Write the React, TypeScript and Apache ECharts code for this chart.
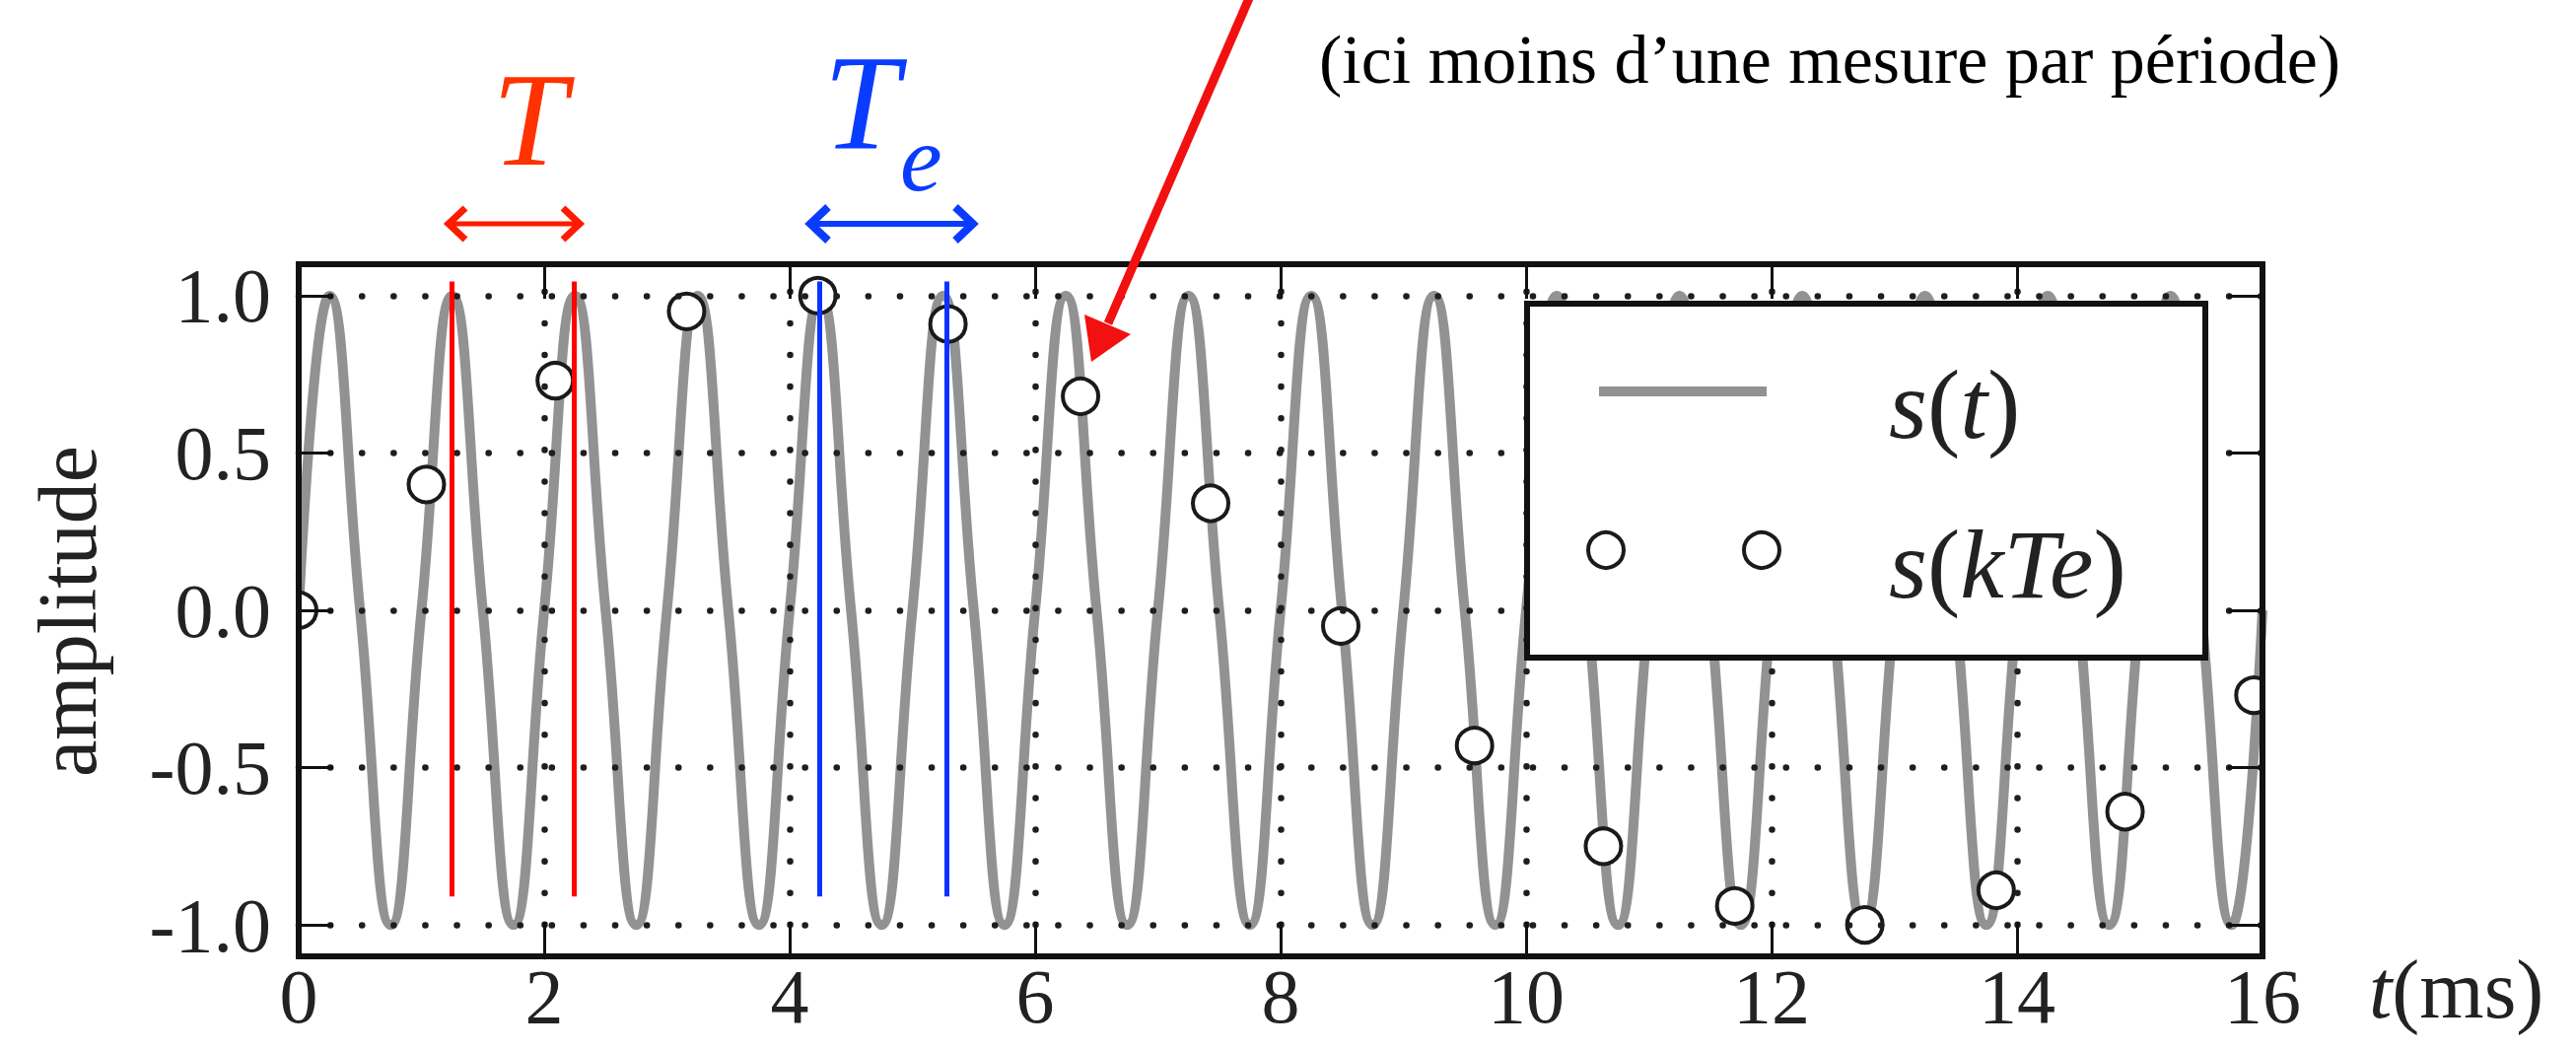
import React, { useEffect, useRef } from 'react';
import * as echarts from 'echarts';

// s(t): times (ms) of zero crossings, peaks and troughs
const sTimes = [0, 0.25, 0.5, 0.75, 1, 1.25, 1.5, 1.75, 2, 2.25, 2.5, 2.75, 3, 3.25, 3.5, 3.75, 4, 4.25, 4.5, 4.75, 5, 5.25, 5.5, 5.75, 6, 6.25, 6.5, 6.75, 7, 7.25, 7.5, 7.75, 8, 8.25, 8.5, 8.75, 9, 9.25, 9.5, 9.75, 10, 10.25, 10.5, 10.75, 11, 11.25, 11.5, 11.75, 12, 12.25, 12.5, 12.75, 13, 13.25, 13.5, 13.75, 14, 14.25, 14.5, 14.75, 15, 15.25, 15.5, 15.75, 16];
const sValues = [0, 1, 0, -1, 0, 1, 0, -1, 0, 1, 0, -1, 0, 1, 0, -1, 0, 1, 0, -1, 0, 1, 0, -1, 0, 1, 0, -1, 0, 1, 0, -1, 0, 1, 0, -1, 0, 1, 0, -1, 0, 1, 0, -1, 0, 1, 0, -1, 0, 1, 0, -1, 0, 1, 0, -1, 0, 1, 0, -1, 0, 1, 0, -1, 0];

// s(kTe): sampled points
const sampleTimes = [0, 1.04, 2.09, 3.16, 4.23, 5.29, 6.37, 7.43, 8.49, 9.58, 10.63, 11.7, 12.76, 13.83, 14.88, 15.93];
const sampleValues = [0, 0.4, 0.73, 0.95, 1.0, 0.91, 0.68, 0.34, -0.05, -0.43, -0.75, -0.94, -1.0, -0.89, -0.64, -0.27];

// grid / tick values
const xTickValues = [2, 4, 6, 8, 10, 12, 14];
const yTickValues = [-1, -0.5, 0, 0.5, 1];

// annotation markers (ms)
const periodMarks = [1.25, 2.24];
const samplingMarks = [4.24, 5.28];
const markTop = 1.045;
const markBottom = -0.91;

const SERIF = "'Liberation Serif', 'DejaVu Serif', serif";

export default function App() {
  const ref = useRef<HTMLDivElement>(null);

  useEffect(() => {
    document.body.style.margin = '0';
    if (!ref.current) return;
    const chart = echarts.init(ref.current, undefined, { renderer: 'svg' });

    const axisLineStyle = { color: '#111', width: 6, cap: 'square' };
    const tick = { show: true, inside: true, length: 35, lineStyle: { color: '#111', width: 3 } };
    const labelStyle = { fontFamily: SERIF, fontSize: 78, color: '#222' };

    const gridLineStyle = { color: '#1e1e1e', width: 6.5, type: [0.1, 32], cap: 'round' };

    const option: any = {
      animation: false,
      backgroundColor: '#fff',
      grid: { left: 303, right: 318, top: 268, bottom: 96, containLabel: false, outerBoundsMode: 'none' },
      xAxis: [
        {
          type: 'value', min: 0, max: 16, interval: 2, position: 'bottom', z: 10,
          axisLine: { show: true, onZero: false, lineStyle: axisLineStyle },
          axisTick: tick,
          splitLine: { show: false },
          axisLabel: { ...labelStyle, margin: 40, verticalAlign: 'middle' },
        },
        {
          type: 'value', min: 0, max: 16, interval: 2, position: 'top', z: 10,
          axisLine: { show: true, onZero: false, lineStyle: axisLineStyle },
          axisTick: tick,
          splitLine: { show: false },
          axisLabel: { show: false },
        },
      ],
      yAxis: [
        {
          type: 'value', min: -1.1, max: 1.1, position: 'left', z: 10,
          axisLine: { show: true, onZero: false, lineStyle: axisLineStyle },
          axisTick: { ...tick, customValues: yTickValues },
          splitLine: { show: false },
          axisLabel: {
            ...labelStyle, margin: 28, customValues: yTickValues,
            formatter: (v: number) => (Math.abs(v) > 1.05 ? '' : v.toFixed(1)),
          },
        },
        {
          type: 'value', min: -1.1, max: 1.1, position: 'right', z: 10,
          axisLine: { show: true, onZero: false, lineStyle: axisLineStyle },
          axisTick: { ...tick, customValues: yTickValues },
          splitLine: { show: false },
          axisLabel: { show: false },
        },
      ],
      series: [
        {
          name: 's(t)',
          type: 'line',
          data: sTimes.map((t, i) => [t, sValues[i]]),
          smooth: 0.5,
          showSymbol: false,
          symbol: 'none',
          lineStyle: { color: '#929292', width: 10 },
          z: 2,
          silent: true,
          markLine: {
            silent: true,
            z: 5,
            symbol: ['none', 'none'],
            label: { show: false },
            lineStyle: gridLineStyle,
            data: [
              ...xTickValues.map((v) => ({ xAxis: v })),
              ...yTickValues.map((v) => ({ yAxis: v })),
            ],
          },
        },
        {
          name: 's(kTe)',
          type: 'scatter',
          data: sampleTimes.map((t, i) => [t, sampleValues[i]]),
          symbol: 'circle',
          symbolSize: 36,
          clip: false,
          itemStyle: { color: '#fff', borderColor: '#1a1a1a', borderWidth: 4, opacity: 1 },
          z: 3,
          silent: true,
          markLine: {
            silent: true,
            z: 6,
            symbol: ['none', 'none'],
            label: { show: false },
            data: [
              ...periodMarks.map((v) => [
                { coord: [v, markTop], lineStyle: { color: '#ff0000', width: 5, type: 'solid' } },
                { coord: [v, markBottom] },
              ]),
              ...samplingMarks.map((v) => [
                { coord: [v, markTop], lineStyle: { color: '#0a32ff', width: 5, type: 'solid' } },
                { coord: [v, markBottom] },
              ]),
            ],
          },
        },
      ],
      graphic: [
        // masks emulating clipping of the edge markers by the frame
        { type: 'rect', z: 8, silent: true, shape: { x: 276, y: 585, width: 25, height: 70 }, style: { fill: '#fff' } },
        { type: 'rect', z: 8, silent: true, shape: { x: 2298, y: 650, width: 40, height: 90 }, style: { fill: '#fff' } },

        // legend box
        { type: 'rect', z: 20, shape: { x: 1549, y: 308, width: 688, height: 359 }, style: { fill: '#fff', stroke: '#111', lineWidth: 6 } },
        { type: 'line', z: 21, shape: { x1: 1622, y1: 397, x2: 1792, y2: 397 }, style: { stroke: '#929292', lineWidth: 10 } },
        { type: 'circle', z: 21, shape: { cx: 1629, cy: 558, r: 18 }, style: { fill: '#fff', stroke: '#1a1a1a', lineWidth: 4 } },
        { type: 'circle', z: 21, shape: { cx: 1787, cy: 558, r: 18 }, style: { fill: '#fff', stroke: '#1a1a1a', lineWidth: 4 } },
        {
          type: 'text', z: 21, x: 1916, y: 410,
          style: {
            text: '{i|s}{n|(}{i|t}{n|)}',
            align: 'left', verticalAlign: 'middle',
            rich: {
              i: { fontFamily: SERIF, fontStyle: 'italic', fontSize: 100, fill: '#222' },
              n: { fontFamily: SERIF, fontSize: 100, fill: '#222' },
            },
          },
        },
        {
          type: 'text', z: 21, x: 1916, y: 572,
          style: {
            text: '{i|s}{n|(}{i|kTe}{n|)}',
            align: 'left', verticalAlign: 'middle',
            rich: {
              i: { fontFamily: SERIF, fontStyle: 'italic', fontSize: 100, fill: '#222' },
              n: { fontFamily: SERIF, fontSize: 100, fill: '#222' },
            },
          },
        },

        // axis titles
        {
          type: 'text', x: 68, y: 620, rotation: Math.PI / 2,
          style: { text: 'amplitude', fontFamily: SERIF, fontSize: 84, fill: '#222', align: 'center', verticalAlign: 'middle' },
        },
        {
          type: 'text', x: 2403, y: 1003,
          style: {
            text: '{i|t}{n|(ms)}',
            align: 'left', verticalAlign: 'middle',
            rich: {
              i: { fontFamily: SERIF, fontStyle: 'italic', fontSize: 84, fill: '#222' },
              n: { fontFamily: SERIF, fontSize: 84, fill: '#222' },
            },
          },
        },

        // top annotation text
        {
          type: 'text', x: 1338, y: 60,
          style: { text: '(ici moins d’une mesure par période)', fontFamily: SERIF, fontSize: 70, fill: '#000', align: 'left', verticalAlign: 'middle' },
        },

        // T (period) label and double arrow
        {
          type: 'text', x: 537, y: 121,
          style: { text: 'T', fontFamily: SERIF, fontStyle: 'italic', fontSize: 136, fill: '#ff3300', align: 'center', verticalAlign: 'middle' },
        },
        { type: 'line', z: 30, shape: { x1: 458, y1: 227, x2: 585, y2: 227 }, style: { stroke: '#ff1a00', lineWidth: 5 } },
        { type: 'polyline', z: 30, shape: { points: [[472, 211], [455, 227], [472, 243]] }, style: { stroke: '#ff1a00', lineWidth: 7, fill: null } },
        { type: 'polyline', z: 30, shape: { points: [[571, 211], [588, 227], [571, 243]] }, style: { stroke: '#ff1a00', lineWidth: 7, fill: null } },

        // Te label (T with subscript e) and double arrow
        {
          type: 'text', x: 912, y: 104,
          style: { text: 'T', fontFamily: SERIF, fontStyle: 'italic', fontSize: 138, fill: '#0a3cff', align: 'right', verticalAlign: 'middle' },
        },
        {
          type: 'text', x: 913, y: 160,
          style: { text: 'e', fontFamily: SERIF, fontStyle: 'italic', fontSize: 96, fill: '#0a3cff', align: 'left', verticalAlign: 'middle' },
        },
        { type: 'line', z: 30, shape: { x1: 825, y1: 227, x2: 984, y2: 227 }, style: { stroke: '#0a3cff', lineWidth: 6 } },
        { type: 'polyline', z: 30, shape: { points: [[840, 210], [822, 227], [840, 244]] }, style: { stroke: '#0a3cff', lineWidth: 8, fill: null } },
        { type: 'polyline', z: 30, shape: { points: [[969, 210], [987, 227], [969, 244]] }, style: { stroke: '#0a3cff', lineWidth: 8, fill: null } },

        // big red arrow pointing to a sample
        { type: 'line', z: 30, shape: { x1: 1268, y1: -4, x2: 1124, y2: 328 }, style: { stroke: '#f21010', lineWidth: 9 } },
        { type: 'polygon', z: 30, shape: { points: [[1107, 367], [1100, 319], [1147, 339]] }, style: { fill: '#f21010' } },
      ],
    };

    chart.setOption(option);
    return () => chart.dispose();
  }, []);

  return (
    <div
      ref={ref}
      style={{ position: 'fixed', left: 0, top: 0, width: '2613px', height: '1066px', background: '#fff' }}
    />
  );
}
